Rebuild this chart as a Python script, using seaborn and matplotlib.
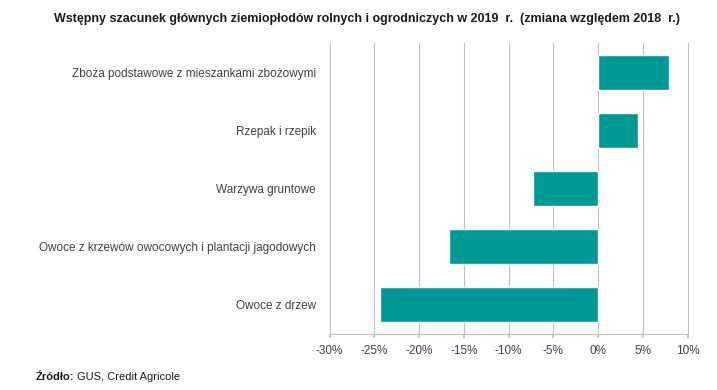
import matplotlib
matplotlib.use("Agg")
import matplotlib.pyplot as plt
import seaborn as sns
import pandas as pd
from matplotlib.ticker import FuncFormatter

categories = [
    "Zboża podstawowe z mieszankami zbożowymi",
    "Rzepak i rzepik",
    "Warzywa gruntowe",
    "Owoce z krzewów owocowych i plantacji jagodowych",
    "Owoce z drzew",
]
values = [7.9, 4.4, -7.3, -16.7, -24.4]
xticks = [-30, -25, -20, -15, -10, -5, 0, 5, 10]

df = pd.DataFrame({"cat": categories, "val": values})

sns.set_theme(style="white")
plt.rcParams["font.family"] = ["Liberation Sans", "DejaVu Sans"]

fig = plt.figure(figsize=(7.17, 3.9), dpi=100)
ax = fig.add_axes([0.4598, 0.1436, 0.4993, 0.7461])

sns.barplot(data=df, x="val", y="cat", orient="h", color="#009994",
            saturation=1, width=0.6, ax=ax, zorder=3)

ax.set_xlim(-30, 10)
ax.set_xticks(xticks)
ax.xaxis.set_major_formatter(FuncFormatter(lambda v, p: f"{int(round(v))}%"))
ax.grid(axis="x", color="#c0c0c0", linewidth=0.8, zorder=0)
for gl in ax.get_xgridlines():
    gl.set_clip_on(False)
ax.set_axisbelow(True)
for s in ["top", "right", "left"]:
    ax.spines[s].set_visible(False)
ax.spines["bottom"].set_color("#bfbfbf")
ax.spines["bottom"].set_linewidth(0.8)
ax.tick_params(axis="x", length=3, color="#bfbfbf", labelsize=8.5, labelcolor="#404040", pad=5, direction="out", bottom=True)
ax.tick_params(axis="y", length=0, labelsize=8.5, labelcolor="#404040", pad=10)
ax.set_xlabel("")
ax.set_ylabel("")

fig.text(0.512, 0.951, "Wstępny szacunek głównych ziemiopłodów rolnych i ogrodniczych w 2019  r.  (zmiana względem 2018  r.)",
         ha="center", va="center", fontsize=9, fontweight="bold", color="#1a1a1a")
fig.text(0.050, 0.033, "Źródło:", ha="left", va="center", fontsize=8, fontweight="bold", color="#1a1a1a")
fig.text(0.107, 0.033, "GUS, Credit Agricole", ha="left", va="center", fontsize=8, color="#1a1a1a")

fig.savefig("out.png", dpi=100)
